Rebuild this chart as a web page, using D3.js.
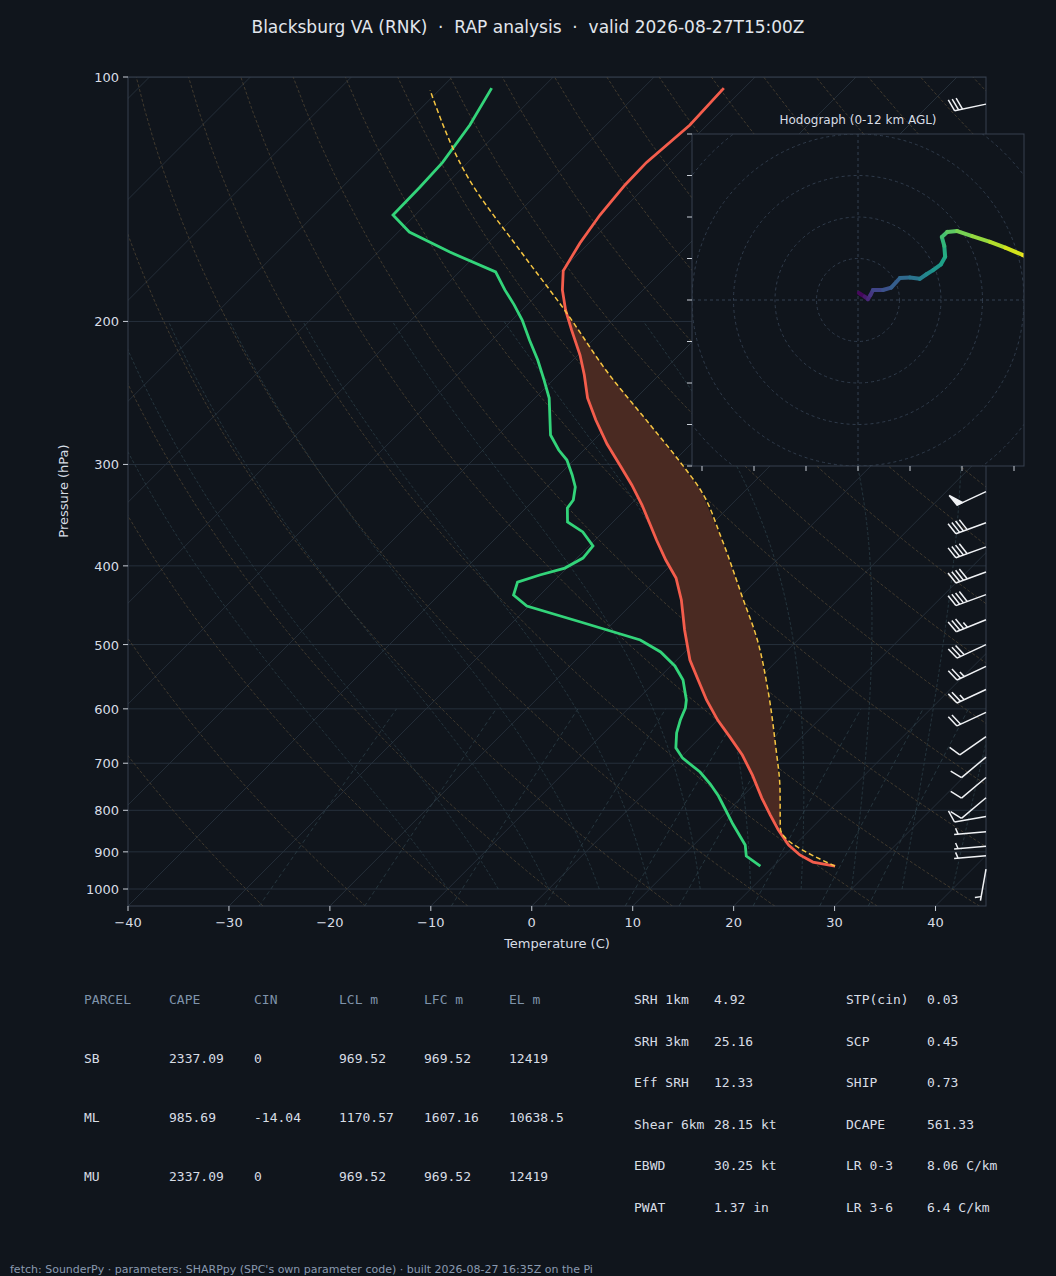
<!DOCTYPE html>
<html>
<head>
<meta charset="utf-8">
<script src="https://cdn.jsdelivr.net/npm/d3@7"></script>
<style>
  body { margin:0; background:#10151c; }
  svg { display:block; }
  text { font-family: "DejaVu Sans", sans-serif; white-space: pre; }
  .mono { font-family: "DejaVu Sans Mono", monospace; }
</style>
</head>
<body>
<svg id="chart" width="1056" height="1276"></svg>
<script>
// sounding values
const tempP = [103.2,114.6,127.4,135.8,147.9,160.2,173.3,182.9,193.6,205,220,232.8,248.5,264.5,283.2,301.4,318,336.6,356.2,371.7,393.4,414,440.6,479.8,522.4,552.9,585,619.4,650,683.9,724.1,772.7,810.6,845.9,882.6,908,926.4,937.3];
const tempC = [-62.0,-61.7,-62.3,-62.2,-61.7,-60.9,-59.8,-58.0,-55.7,-53.1,-49.8,-47.4,-44.8,-41.8,-38.3,-34.8,-31.8,-28.8,-26.0,-23.9,-21.0,-18.2,-15.5,-12.2,-8.7,-5.9,-3.1,0.0,2.9,5.9,8.9,12.1,14.6,16.9,19.4,21.5,23.5,26.1];

const dewP = [103.2,114.6,127.4,136.6,147.9,155.2,164.3,173.8,182.9,190.8,199.2,210.8,223.1,236.1,248.5,276,288,296.3,309.1,319.8,331.9,339.5,353.2,363.3,378.1,391.2,402.5,410.5,418.8,434.6,448.3,469,493.6,510.6,531.3,552.9,585,598.4,619.4,642.3,670,690,717.7,742.5,768.2,799.3,831.8,882.6,910.7,937.3];
const dewC = [-85.0,-83.5,-82.5,-82.3,-82.2,-78.9,-72.9,-66.4,-63.7,-61.3,-59.0,-56.3,-53.5,-50.9,-48.6,-44.8,-42.5,-40.7,-38.7,-37.2,-36.1,-35.9,-34.5,-32.0,-29.6,-29.4,-30.2,-32.0,-33.5,-32.6,-30.2,-23.3,-15.6,-12.4,-9.6,-7.4,-5.1,-4.4,-3.7,-2.8,-1.4,0.3,3.4,5.6,7.6,9.7,11.8,15.1,16.3,18.7];

const parcelP = [937.3,841.3,755.2,664.8,568.8,493.6,434.6,371.7,322.5,297.9,268.3,232.8,193.6,163.3,133.9,103.8];
const parcelC = [26.1,16.9,13.1,8.2,2.0,-4.0,-10.0,-17.4,-24.5,-29.3,-35.9,-44.9,-55.8,-66.2,-78.1,-90.9];

// wind barbs: pressure, speed (kt), direction (deg)
const barbP   = [108,324,354,379,407,434,466,500,532,568,606,649,688,729,772,814,850,886,910,945];
const barbSpd = [30,50,40,40,40,40,35,30,25,25,20,10,10,10,10,10,5,5,5,5];
const barbDir = [258,245,250,250,250,250,248,245,245,245,245,235,230,230,230,260,265,265,265,190];

// hodograph u/v (kt)
const hodoU = [0.2,1.6,2.4,3.0,3.6,6.0,8.0,10.1,12.5,14.9,16.5,18.1,20.0,21.0,20.8,20.2,21.5,23.9,27.5,31.8,35.5,39.8,48.7];
const hodoV = [1.7,0.8,0.2,1.2,2.4,2.4,3.0,5.3,5.4,5.1,6.2,7.2,8.6,10.4,13.0,15.2,16.4,16.6,15.4,14.0,12.6,10.8,6.7];

const xTicks = [-40,-30,-20,-10,0,10,20,30,40];
const pTicks = [100,200,300,400,500,600,700,800,900,1000];

const parcelHead = ["PARCEL","CAPE","CIN","LCL m","LFC m","EL m"];
const parcelRows = [
  ["SB","2337.09","0","969.52","969.52","12419"],
  ["ML","985.69","-14.04","1170.57","1607.16","10638.5"],
  ["MU","2337.09","0","969.52","969.52","12419"]
];
const idxLabels1 = ["SRH 1km","SRH 3km","Eff SRH","Shear 6km","EBWD","PWAT"];
const idxValues1 = ["4.92","25.16","12.33","28.15 kt","30.25 kt","1.37 in"];
const idxLabels2 = ["STP(cin)","SCP","SHIP","DCAPE","LR 0-3","LR 3-6"];
const idxValues2 = ["0.03","0.45","0.73","561.33","8.06 C/km","6.4 C/km"];

const svg = d3.select("#chart");
svg.append("rect").attr("width",1056).attr("height",1276).attr("fill","#10151c");

const L = 128, R = 986, T = 77, B = 906;
const yP = d3.scaleLog().domain([100,1000]).range([77,889]);
const xs = d3.scaleLinear().domain([-40,45]).range([L,R]);
const sx = (t,p) => xs(t) + (B - yP(p));

svg.append("defs").append("clipPath").attr("id","plotclip")
  .append("rect").attr("x",L).attr("y",T).attr("width",R-L).attr("height",B-T);
const g = svg.append("g").attr("clip-path","url(#plotclip)");
const line = d3.line().x(d => sx(d[1],d[0])).y(d => yP(d[0]));

// isobars
pTicks.forEach(p => g.append("line").attr("x1",L).attr("x2",R).attr("y1",yP(p)).attr("y2",yP(p))
  .attr("stroke","#26303c").attr("stroke-width",1));
// isotherms
for (let t=-130;t<=50;t+=10){
  g.append("path").attr("d",line([[1050,t],[100,t]])).attr("fill","none")
   .attr("stroke","#27313c").attr("stroke-width",0.9);
}
const levels = d3.range(1050,99,-10);
// dry adiabats
for (let th=-30; th<=200; th+=10){
  const pts = levels.map(p => [p,(th+273.15)*Math.pow(p/1000,0.2857)-273.15]);
  g.append("path").attr("d",line(pts)).attr("fill","none")
   .attr("stroke","#4d4232").attr("stroke-width",0.8).attr("stroke-dasharray","3,2");
}
// moist adiabats
function es(tc){ return 6.112*Math.exp(17.67*tc/(tc+243.5)); }
for (let t0=-10; t0<=40; t0+=5){
  let t = t0+273.15, pts=[];
  for (let p=1000;p>=200;p-=5){
    pts.push([p,t-273.15]);
    const rs = 0.622*es(t-273.15)/(p-es(t-273.15));
    const dTdp = (287*t + 2.5e6*rs)/(1004 + 2.5e6*2.5e6*rs*0.622/(287*t*t))/p;
    t -= dTdp*5;
  }
  g.append("path").attr("d",line(pts)).attr("fill","none")
   .attr("stroke","#2a3c45").attr("stroke-width",0.8).attr("stroke-dasharray","3,2");
}
// mixing ratio lines
[0.4,1,2,4,7,10,16,24,32].forEach(w => {
  const pts = d3.range(1050,590,-10).map(p => {
    const e = (w/1000)*p/(0.622+w/1000);
    const l = Math.log(e/6.112);
    return [p, 243.5*l/(17.67-l)];
  });
  g.append("path").attr("d",line(pts)).attr("fill","none")
   .attr("stroke","#2c3f48").attr("stroke-width",0.8).attr("stroke-dasharray","4,3");
});

// CAPE shading
const pz = parcelP.map((p,i)=>[p,parcelC[i]]).filter(d=>d[0]<=842 && d[0]>=193);
const tz = tempP.map((p,i)=>[p,tempC[i]]).filter(d=>d[0]<=842 && d[0]>=193);
g.append("path").attr("d",line(pz.concat(tz))+"Z").attr("fill","#4a2a22");

// profiles
g.append("path").attr("d",line(tempP.map((p,i)=>[p,tempC[i]]))).attr("fill","none")
 .attr("stroke","#f45d4c").attr("stroke-width",2.8);
g.append("path").attr("d",line(dewP.map((p,i)=>[p,dewC[i]]))).attr("fill","none")
 .attr("stroke","#33d47a").attr("stroke-width",2.8);
g.append("path").attr("d",d3.line().curve(d3.curveMonotoneY).x(d => sx(d[1],d[0])).y(d => yP(d[0]))(parcelP.map((p,i)=>[p,parcelC[i]])))
 .attr("fill","none").attr("stroke","#f5c542").attr("stroke-width",1.5).attr("stroke-dasharray","5,3");

// frame & axes
svg.append("rect").attr("x",L).attr("y",T).attr("width",R-L).attr("height",B-T)
  .attr("fill","none").attr("stroke","#36414f").attr("stroke-width",1);
xTicks.forEach(t => {
  svg.append("line").attr("x1",xs(t)).attr("x2",xs(t)).attr("y1",B).attr("y2",B+5).attr("stroke","#c8ced6");
  svg.append("text").attr("x",xs(t)).attr("y",B+21).attr("text-anchor","middle").attr("fill","#d8dde5")
    .attr("font-size",13).text(t<0 ? "\u2212"+Math.abs(t) : t);
});
pTicks.forEach(p => {
  svg.append("line").attr("x1",L-5).attr("x2",L).attr("y1",yP(p)).attr("y2",yP(p)).attr("stroke","#c8ced6");
  svg.append("text").attr("x",L-9).attr("y",yP(p)+5).attr("text-anchor","end").attr("fill","#d8dde5")
    .attr("font-size",13).text(p);
});
svg.append("text").attr("x",557).attr("y",948).attr("text-anchor","middle").attr("fill","#d8dde5")
  .attr("font-size",13).text("Temperature (C)");
svg.append("text").attr("transform","translate(68,491) rotate(-90)").attr("text-anchor","middle")
  .attr("fill","#d8dde5").attr("font-size",13).text("Pressure (hPa)");
svg.append("text").attr("x",528).attr("y",33).attr("text-anchor","middle").attr("fill","#e2e6ec")
  .attr("font-size",17).text("Blacksburg VA (RNK)  \u00b7  RAP analysis  \u00b7  valid 2026-08-27T15:00Z");

// hodograph inset
const hx0 = 692, hy0 = 134, hs = 332, hcx = 858, hcy = 300;
const hu = d3.scaleLinear().domain([0,10]).range([hcx,hcx+41.5]);
const hv = d3.scaleLinear().domain([0,10]).range([hcy,hcy-41.5]);
svg.append("text").attr("x",858).attr("y",124).attr("text-anchor","middle").attr("fill","#d8dde5")
  .attr("font-size",12).text("Hodograph (0-12 km AGL)");
svg.append("rect").attr("x",hx0).attr("y",hy0).attr("width",hs).attr("height",hs).attr("fill","#10151c");
svg.append("defs").append("clipPath").attr("id","hclip")
  .append("rect").attr("x",hx0).attr("y",hy0).attr("width",hs).attr("height",hs);
const hg = svg.append("g").attr("clip-path","url(#hclip)");
[10,20,30,40,50].forEach(r => hg.append("circle").attr("cx",hcx).attr("cy",hcy).attr("r",hu(r)-hcx)
  .attr("fill","none").attr("stroke","#334050").attr("stroke-dasharray","3,3").attr("stroke-width",0.9));
hg.append("line").attr("x1",hx0).attr("x2",hx0+hs).attr("y1",hcy).attr("y2",hcy).attr("stroke","#334050").attr("stroke-dasharray","3,3");
hg.append("line").attr("x1",hcx).attr("x2",hcx).attr("y1",hy0).attr("y2",hy0+hs).attr("stroke","#334050").attr("stroke-dasharray","3,3");
const cscale = d3.scaleLinear().domain([0,hodoU.length-1]).range([0,1]);
for (let i=0;i<hodoU.length-1;i++){
  hg.append("line").attr("x1",hu(hodoU[i])).attr("y1",hv(hodoV[i])).attr("x2",hu(hodoU[i+1])).attr("y2",hv(hodoV[i+1]))
    .attr("stroke",d3.interpolateViridis(cscale(i+0.5))).attr("stroke-width",4).attr("stroke-linecap","round");
}
svg.append("rect").attr("x",hx0).attr("y",hy0).attr("width",hs).attr("height",hs)
  .attr("fill","none").attr("stroke","#36414f");
d3.range(0,9).forEach(k => svg.append("line").attr("x1",hx0-5).attr("x2",hx0).attr("y1",hy0+k*41.5).attr("y2",hy0+k*41.5).attr("stroke","#c8ced6"));
d3.range(-3,4).forEach(k => svg.append("line").attr("x1",hcx+k*52).attr("x2",hcx+k*52).attr("y1",hy0+hs).attr("y2",hy0+hs+5).attr("stroke","#c8ced6"));

// wind barbs
const bg = svg.append("g").attr("stroke","#f0f2f5").attr("stroke-width",1.5).attr("fill","#f0f2f5");
barbP.forEach((p,i) => {
  const a = barbDir[i]*Math.PI/180;
  const dx = Math.sin(a), dy = -Math.cos(a);     // toward where wind comes from (screen)
  const nx = -dy, ny = dx;                        // barb side
  const ox = R, oy = yP(p), len = 32;
  const tx = ox+dx*len, ty = oy+dy*len;
  bg.append("line").attr("x1",ox).attr("y1",oy).attr("x2",tx).attr("y2",ty);
  let s = Math.round(barbSpd[i]/5)*5, pos = 0;
  const at = k => [tx - dx*k, ty - dy*k];
  while (s >= 50){
    const [x1,y1]=at(pos), [x2,y2]=at(pos+6);
    bg.append("path").attr("d",`M${x1},${y1}L${x1+nx*12+dx*3},${y1+ny*12+dy*3}L${x2},${y2}Z`);
    pos += 7; s -= 50;
  }
  while (s >= 10){
    const [x1,y1]=at(pos);
    bg.append("line").attr("x1",x1).attr("y1",y1).attr("x2",x1+nx*12+dx*4).attr("y2",y1+ny*12+dy*4);
    pos += 4; s -= 10;
  }
  if (s >= 5){
    if (pos===0) pos = 4;
    const [x1,y1]=at(pos);
    bg.append("line").attr("x1",x1).attr("y1",y1).attr("x2",x1+nx*6+dx*2).attr("y2",y1+ny*6+dy*2);
  }
});

// tables
const tb = svg.append("g").attr("font-size",13);
const colX = [84,169,254,339,424,509];
parcelHead.forEach((h,j) => tb.append("text").attr("class","mono").attr("x",colX[j]).attr("y",1004).attr("fill","#7f93aa").text(h));
parcelRows.forEach((r,i) => r.forEach((v,j) => tb.append("text").attr("class","mono").attr("x",colX[j]).attr("y",1063+i*59).attr("fill","#d8dde5").text(v)));
idxLabels1.forEach((l,i) => {
  const y = 1004 + i*41.5;
  tb.append("text").attr("class","mono").attr("x",634).attr("y",y).attr("fill","#d8dde5").text(l);
  tb.append("text").attr("class","mono").attr("x",714).attr("y",y).attr("fill","#d8dde5").text(idxValues1[i]);
  tb.append("text").attr("class","mono").attr("x",846).attr("y",y).attr("fill","#d8dde5").text(idxLabels2[i]);
  tb.append("text").attr("class","mono").attr("x",927).attr("y",y).attr("fill","#d8dde5").text(idxValues2[i]);
});
svg.append("text").attr("x",10).attr("y",1273).attr("fill","#8a9ab0").attr("font-size",11)
  .text("fetch: SounderPy \u00b7 parameters: SHARPpy (SPC's own parameter code) \u00b7 built 2026-08-27 16:35Z on the Pi");
</script>
</body>
</html>
